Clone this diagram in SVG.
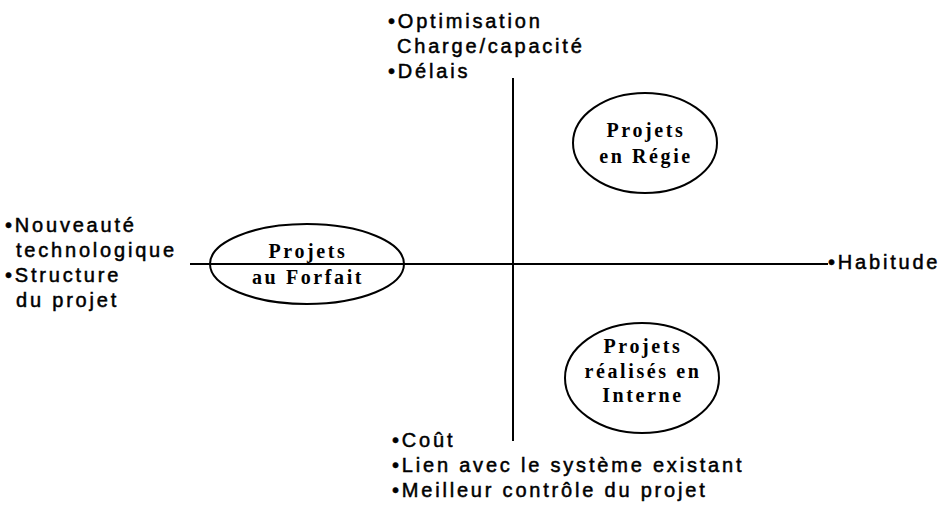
<svg xmlns="http://www.w3.org/2000/svg" width="950" height="507" viewBox="0 0 950 507">
<style>
.ax{stroke:#000;stroke-width:2;fill:none}
.el{stroke:#000;stroke-width:2;fill:none}
.t{font-family:"Liberation Sans",Arial,sans-serif;font-size:20px;letter-spacing:2.8px;fill:#000;stroke:#000;stroke-width:0.5}
.l{font-family:"Liberation Serif","Times New Roman",serif;font-size:20px;font-weight:bold;letter-spacing:2.6px;fill:#000;text-anchor:middle}
</style>
<rect width="950" height="507" fill="#fff"/>
<g id="connectors">
<line class="ax" x1="513" y1="78" x2="513" y2="441"/>
<line class="ax" x1="190" y1="264" x2="828" y2="264"/>
</g>
<g id="forfait">
<ellipse class="el" cx="307" cy="264" rx="97" ry="40"/>
<text class="l" x="308" y="258">Projets</text>
<text class="l" x="308" y="284">au Forfait</text>
</g>
<g id="regie">
<ellipse class="el" cx="645" cy="143" rx="72" ry="50"/>
<text class="l" x="646" y="137">Projets</text>
<text class="l" x="646" y="163">en Régie</text>
</g>
<g id="interne">
<ellipse class="el" cx="642" cy="378" rx="77" ry="55"/>
<text class="l" x="643" y="353">Projets</text>
<text class="l" x="643" y="378">réalisés en</text>
<text class="l" x="643" y="402">Interne</text>
</g>
<g id="top-labels">
<text class="t" x="388" y="28">•Optimisation</text>
<text class="t" x="397" y="53">Charge/capacité</text>
<text class="t" x="388" y="78">•Délais</text>
</g>
<g id="left-labels">
<text class="t" x="5" y="232">•Nouveauté</text>
<text class="t" x="16" y="257">technologique</text>
<text class="t" x="5" y="282">•Structure</text>
<text class="t" x="16" y="307">du projet</text>
</g>
<g id="right-label">
<text class="t" x="828" y="269">•Habitude</text>
</g>
<g id="bottom-labels">
<text class="t" x="392" y="447">•Coût</text>
<text class="t" x="392" y="472">•Lien avec le système existant</text>
<text class="t" x="392" y="497">•Meilleur contrôle du projet</text>
</g>
</svg>
